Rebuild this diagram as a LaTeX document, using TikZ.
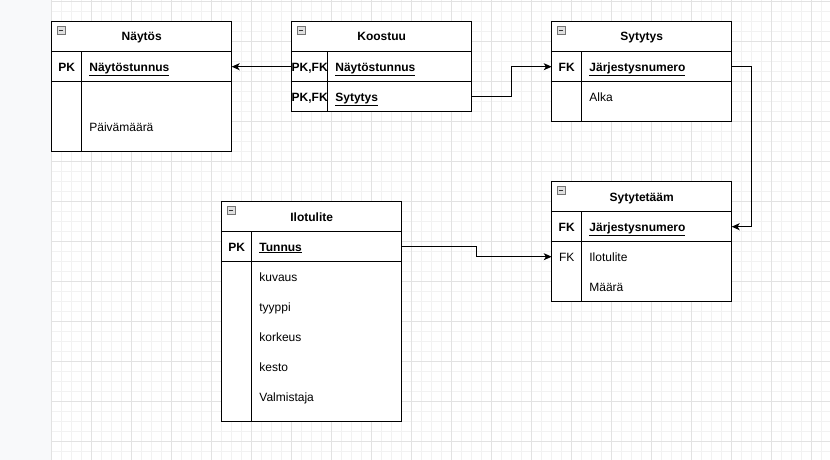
\documentclass[tikz,border=0pt]{standalone}
\usepackage{fontspec}
\setmainfont{Liberation Sans}
\usetikzlibrary{arrows.meta}
\definecolor{gmaj}{HTML}{E2E2E2}
\definecolor{gmin}{HTML}{F2F2F2}
\definecolor{panel}{HTML}{F8F9FA}
\definecolor{panelline}{HTML}{E6E6E6}
\begin{document}
\begin{tikzpicture}[x=1pt,y=-1pt,
  font=\fontsize{12}{14}\selectfont,
  tbl/.style={draw=black, line width=1pt, fill=white, minimum width=180pt, minimum height=30pt, anchor=north west, inner sep=0pt, outer sep=0pt},
  divider/.style={draw=black, line width=1pt},
  title/.style={anchor=base, inner sep=0pt, font=\fontsize{12}{14}\selectfont\bfseries},
  keyb/.style={anchor=base, inner sep=0pt, font=\fontsize{12}{14}\selectfont\bfseries},
  keyr/.style={anchor=base, inner sep=0pt},
  fname/.style={anchor=base west, inner sep=0pt},
  fkey/.style={anchor=base west, inner sep=0pt, font=\fontsize{12}{14}\selectfont\bfseries},
  icon/.style={draw=black!55, fill=black!12, line width=0.6pt, minimum size=8pt, inner sep=0pt,
    path picture={\draw[line width=0.9pt,black!80] ([xshift=1.8pt]path picture bounding box.west) -- ([xshift=-1.8pt]path picture bounding box.east);}},
  conn/.style={draw=black, line width=1pt, -{Stealth[length=8pt,width=7pt,inset=2.2pt]}}
]
% canvas
\useasboundingbox (0,0) rectangle (830,460);
\fill[white] (0,0) rectangle (830,460);
\fill[panel] (0,0) rectangle (51,460);
\draw[panelline, line width=1pt] (51,0) -- (51,460);
\foreach \i in {0,...,77} \draw[gmin, line width=0.8pt] ({51.7+10*\i},0) -- ({51.7+10*\i},460);
\foreach \j in {0,...,45} \draw[gmin, line width=0.8pt] (51.7,{1.7+10*\j}) -- (830,{1.7+10*\j});
\foreach \i in {0,...,19} \draw[gmaj, line width=0.8pt] ({51.7+40*\i},0) -- ({51.7+40*\i},460);
\foreach \j in {0,...,11} \draw[gmaj, line width=0.8pt] (51.7,{1.7+40*\j}) -- (830,{1.7+40*\j});

% ---------- Näytös ----------
\node[tbl] (n-h) at (51.7,21.7) {};
\node[tbl] (n-r1) at (51.7,51.7) {};
\node[tbl, minimum height=70pt] (n-rest) at (51.7,81.7) {};
\draw[divider] ([xshift=30pt]n-r1.north west) -- ([xshift=30pt]n-rest.south west);
\node[icon] (n-ic) at (60.8,30.5) {};
\node[title] (n-t) at (141.7,41.0) {Näytös};
\node[keyb] (n-k1) at (66.7,71.0) {PK};
\node[fkey] (n-f1) at (89.2,71.0) {\underline{Näytöstunnus}};
\node[fname] (n-f2) at (89.2,131.0) {Päivämäärä};

% ---------- Koostuu ----------
\node[tbl] (k-h) at (291.7,21.7) {};
\node[tbl] (k-r1) at (291.7,51.7) {};
\node[tbl] (k-r2) at (291.7,81.7) {};
\draw[divider] ([xshift=36pt]k-r1.north west) -- ([xshift=36pt]k-r2.south west);
\node[icon] (k-ic) at (300.8,30.5) {};
\node[title] (k-t) at (381.7,41.0) {Koostuu};
\node[keyb] (k-k1) at (309.7,71.0) {PK,FK};
\node[keyb] (k-k2) at (309.7,101.0) {PK,FK};
\node[fkey] (k-f1) at (335.2,71.0) {\underline{Näytöstunnus}};
\node[fkey] (k-f2) at (335.2,101.0) {\underline{Sytytys}};

% ---------- Sytytys ----------
\node[tbl] (s-h) at (551.7,21.7) {};
\node[tbl] (s-r1) at (551.7,51.7) {};
\node[tbl, minimum height=40pt] (s-rest) at (551.7,81.7) {};
\draw[divider] ([xshift=30pt]s-r1.north west) -- ([xshift=30pt]s-rest.south west);
\node[icon] (s-ic) at (560.8,30.5) {};
\node[title] (s-t) at (641.7,41.0) {Sytytys};
\node[keyb] (s-k1) at (566.7,71.0) {FK};
\node[fkey] (s-f1) at (589.2,71.0) {\underline{Järjestysnumero}};
\node[fname] (s-f2) at (589.2,101.0) {Alka};

% ---------- Sytytetääm ----------
\node[tbl] (st-h) at (551.7,181.7) {};
\node[tbl] (st-r1) at (551.7,211.7) {};
\node[tbl, minimum height=60pt] (st-rest) at (551.7,241.7) {};
\draw[divider] ([xshift=30pt]st-r1.north west) -- ([xshift=30pt]st-rest.south west);
\coordinate (st-c2) at (551.7,256.7);
\node[icon] (st-ic) at (560.8,190.5) {};
\node[title] (st-t) at (641.7,201.0) {Sytytetääm};
\node[keyb] (st-k1) at (566.7,231.0) {FK};
\node[fkey] (st-f1) at (589.2,231.0) {\underline{Järjestysnumero}};
\node[keyr] (st-k2) at (566.7,261.0) {FK};
\node[fname] (st-f2) at (589.2,261.0) {Ilotulite};
\node[fname] (st-f3) at (589.2,291.0) {Määrä};

% ---------- Ilotulite ----------
\node[tbl] (i-h) at (221.7,201.7) {};
\node[tbl] (i-r1) at (221.7,231.7) {};
\node[tbl, minimum height=160pt] (i-rest) at (221.7,261.7) {};
\draw[divider] ([xshift=30pt]i-r1.north west) -- ([xshift=30pt]i-rest.south west);
\node[icon] (i-ic) at (230.8,210.5) {};
\node[title] (i-t) at (311.7,221.0) {Ilotulite};
\node[keyb] (i-k1) at (236.7,251.0) {PK};
\node[fkey] (i-f1) at (259.2,251.0) {\underline{Tunnus}};
\node[fname] (i-f2) at (259.2,281.0) {kuvaus};
\node[fname] (i-f3) at (259.2,311.0) {tyyppi};
\node[fname] (i-f4) at (259.2,341.0) {korkeus};
\node[fname] (i-f5) at (259.2,371.0) {kesto};
\node[fname] (i-f6) at (259.2,401.0) {Valmistaja};

% ---------- connectors ----------
\draw[conn] (k-r1.west) -- (n-r1.east);
\draw[conn] (k-r2.east) -- ++(40,0) |- (s-r1.west);
\draw[conn] (s-r1.east) -- ++(20,0) |- (st-r1.east);
\draw[conn] (i-r1.east) -- ++(75,0) |- (st-c2);
\end{tikzpicture}
\end{document}
